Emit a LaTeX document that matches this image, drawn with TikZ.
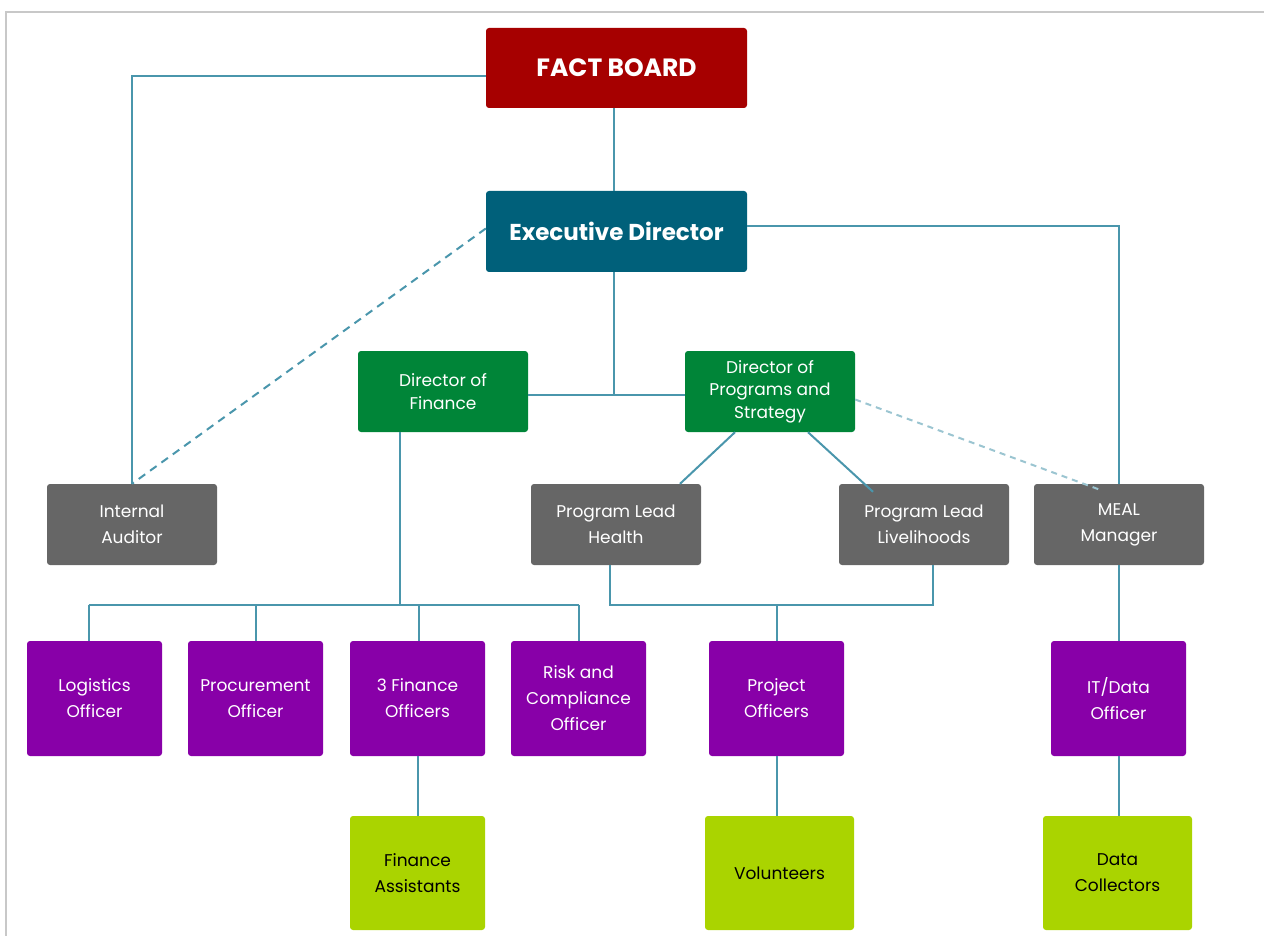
\documentclass[tikz,border=0pt]{standalone}
\usepackage{fontspec}
\setmainfont{Poppins}
\usetikzlibrary{calc}

\definecolor{boardred}{RGB}{166,0,0}
\definecolor{execteal}{RGB}{0,96,122}
\definecolor{dirgreen}{RGB}{0,133,56}
\definecolor{leadgray}{RGB}{102,102,102}
\definecolor{staffpurple}{RGB}{136,0,168}
\definecolor{crewlime}{RGB}{170,212,0}
\definecolor{linkteal}{RGB}{74,150,172}
\definecolor{framegray}{RGB}{200,200,200}

\tikzset{
  box/.style={rectangle, rounded corners=3pt, inner sep=0pt, align=center, text=white,
    font=\fontsize{17}{26}\selectfont},
  redbox/.style={box, fill=boardred, minimum width=261pt, minimum height=80pt,
    font=\fontsize{25}{30}\selectfont\bfseries},
  tealbox/.style={box, fill=execteal, minimum width=261pt, minimum height=81pt,
    font=\fontsize{23}{28}\selectfont\bfseries},
  greenbox/.style={box, fill=dirgreen, minimum width=170pt, minimum height=81pt,
    font=\fontsize{17}{22.5}\selectfont},
  graybox/.style={box, fill=leadgray, minimum width=170pt, minimum height=81pt},
  purplebox/.style={box, fill=staffpurple, minimum width=135pt, minimum height=115pt},
  limebox/.style={box, fill=crewlime, text=black, minimum width=135pt, minimum height=114pt},
  link/.style={draw=linkteal, line width=2pt},
  dotlink/.style={link, dash pattern=on 8pt off 6pt},
  faintlink/.style={link, draw=linkteal!55, dash pattern=on 6pt off 5pt}
}

\begin{document}
\begin{tikzpicture}[x=1pt, y=-1pt]
  \useasboundingbox (0,0) rectangle (1264,936);
  \draw[framegray, line width=1.2pt] (6,936) -- (6,12) -- (1264,12);

  % top of the tree
  \node[redbox] (board) at (616.5,68) {FACT BOARD};
  \node[tealbox] (exec) at (616.5,231.5) {Executive Director};

  % directors
  \node[greenbox] (fin) at (443,391.5) {Director of\\Finance};
  \node[greenbox] (prog) at (770,391.5) {Director of\\Programs and\\Strategy};

  % leads
  \node[graybox] (auditor) at (132,524.5) {Internal\\Auditor};
  \node[graybox] (health) at (616,524.5) {Program Lead\\Health};
  \node[graybox] (liveli) at (924,524.5) {Program Lead\\Livelihoods};
  \node[graybox] (meal) at (1119,524.5) {MEAL\\Manager};

  % officers
  \node[purplebox] (logistics) at (94.5,698.5) {Logistics\\Officer};
  \node[purplebox] (procure) at (255.5,698.5) {Procurement\\Officer};
  \node[purplebox] (finoff) at (417.5,698.5) {3 Finance\\Officers};
  \node[purplebox] (risk) at (578.5,698.5) {Risk and\\Compliance\\Officer};
  \node[purplebox] (projoff) at (776.5,698.5) {Project\\Officers};
  \node[purplebox] (itdata) at (1118.5,698.5) {IT/Data\\Officer};

  % field staff
  \node[limebox] (finassist) at (417.5,873) {Finance\\Assistants};
  \node[limebox, minimum width=149pt] (volunteers) at (779.5,873) {Volunteers};
  \node[limebox, minimum width=149pt] (collectors) at (1117.5,873) {Data\\Collectors};

  % connectors
  \coordinate (dbus) at (614,395);
  \draw[link] ([xshift=-2.5pt]board.south) -- ([xshift=-2.5pt]exec.north);
  \draw[link] ([yshift=-8pt]board.west) -| (auditor.north);
  \draw[link] ([yshift=5pt]exec.east) -| (meal.north);
  \draw[link] ([xshift=-2.5pt]exec.south) -- (dbus);
  \draw[link] (fin.east |- dbus) -- (prog.west |- dbus);
  \draw[dotlink] ([yshift=3pt]exec.west) -- (auditor.north);
  \draw[faintlink] ([yshift=-8pt]prog.east) -- ([xshift=-19pt,yshift=-6pt]meal.north);
  \draw[link] ([xshift=-35pt]prog.south) -- ([xshift=64pt]health.north);
  \draw[link] ([xshift=38pt]prog.south) -- ([xshift=-51pt,yshift=-8pt]liveli.north);

  \coordinate (pbus) at (777,605);
  \draw[link] ([xshift=-6pt]health.south) |- (pbus) -| ([xshift=9pt]liveli.south);
  \draw[link] (projoff.north) -- (projoff.north |- pbus);

  \coordinate (fbus) at (400,605);
  \draw[link] ([xshift=-43pt]fin.south) -- (fbus);
  \draw[link] ([xshift=-6pt]logistics.north |- fbus) -- (risk.north |- fbus);
  \foreach \n/\s in {logistics/-6, procure/0, finoff/1, risk/0}
    \draw[link] ([xshift=\s pt]\n.north) -- ([xshift=\s pt]\n.north |- fbus);

  \draw[link] (finoff.south) -- (finassist.north);
  \draw[link] (projoff.south) -- (projoff.south |- volunteers.north);
  \draw[link] (meal.south) -- (meal.south |- itdata.north);
  \draw[link] (itdata.south) -- (itdata.south |- collectors.north);
\end{tikzpicture}
\end{document}
